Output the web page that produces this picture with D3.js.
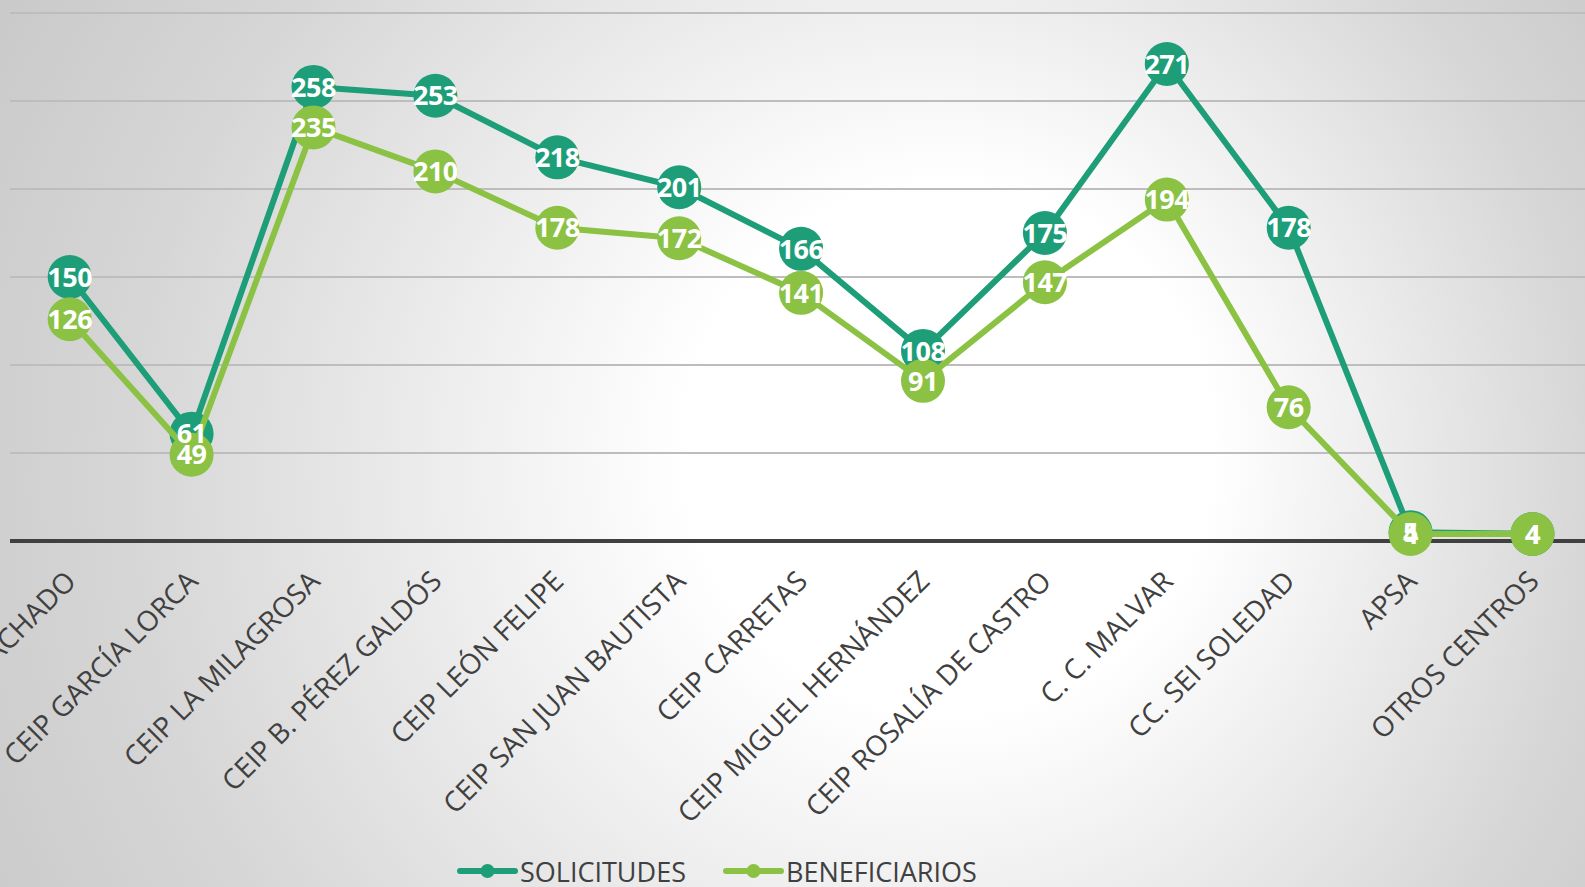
<!DOCTYPE html>
<html>
<head>
<meta charset="utf-8">
<script src="https://cdn.jsdelivr.net/npm/d3@7"></script>
<style>
  html, body { margin: 0; padding: 0; overflow: hidden; }
  svg { display: block; }
</style>
</head>
<body>
<div id="chart"></div>
<script>
var categories = [
    'CEIP ANTONIO MACHADO', 'CEIP GARCÍA LORCA', 'CEIP LA MILAGROSA',
    'CEIP B. PÉREZ GALDÓS', 'CEIP LEÓN FELIPE', 'CEIP SAN JUAN BAUTISTA',
    'CEIP CARRETAS', 'CEIP MIGUEL HERNÁNDEZ', 'CEIP ROSALÍA DE CASTRO',
    'C. C. MALVAR', 'CC. SEI SOLEDAD', 'APSA', 'OTROS CENTROS'
];
var solicitudes = [150, 61, 258, 253, 218, 201, 166, 108, 175, 271, 178, 5, 4];
var beneficiarios = [126, 49, 235, 210, 178, 172, 141, 91, 147, 194, 76, 4, 4];
var seriesNames = ['SOLICITUDES', 'BENEFICIARIOS'];
var gridValues = [50, 100, 150, 200, 250, 300];

var width = 1585,
    height = 887;

var colors = ['#1e9e78', '#8bc243'];

var svg = d3.select('#chart').append('svg')
    .attr('width', width)
    .attr('height', height);

// background, white in the middle, grey towards the edges
var defs = svg.append('defs');
var grad = defs.append('radialGradient')
    .attr('id', 'bg')
    .attr('gradientUnits', 'userSpaceOnUse')
    .attr('cx', 800)
    .attr('cy', 500)
    .attr('r', 1050)
    .attr('fx', 1000)
    .attr('fy', 430);
grad.append('stop').attr('offset', 0).attr('stop-color', '#ffffff');
grad.append('stop').attr('offset', 0.25).attr('stop-color', '#ffffff');
grad.append('stop').attr('offset', 0.7).attr('stop-color', '#d6d6d6');
grad.append('stop').attr('offset', 1).attr('stop-color', '#c4c4c4');

svg.append('rect')
    .attr('width', width)
    .attr('height', height)
    .attr('fill', 'url(#bg)');

// scales
var x = d3.scalePoint()
    .domain(categories)
    .range([69.7, 69.7 + 121.9 * (categories.length - 1)]);

var y = d3.scaleLinear()
    .domain([0, 300])
    .range([541, 13]);

// grid
svg.append('g')
    .selectAll('line')
    .data(gridValues)
    .enter().append('line')
    .attr('x1', 10)
    .attr('x2', width)
    .attr('y1', function(d) { return y(d); })
    .attr('y2', function(d) { return y(d); })
    .attr('stroke', '#bdbdbd')
    .attr('stroke-width', 2);

// category axis
var xAxis = svg.append('g')
    .attr('transform', 'translate(0,' + y(0) + ')')
    .call(d3.axisBottom(x).tickSize(0).tickFormat(''));
xAxis.select('.domain').remove();
xAxis.append('line')
    .attr('x1', 10)
    .attr('x2', width)
    .attr('stroke', '#404040')
    .attr('stroke-width', 4);

svg.append('g')
    .selectAll('text')
    .data(categories)
    .enter().append('text')
    .attr('transform', function(d) { return 'translate(' + (x(d) + 8) + ',583)rotate(-45)'; })
    .attr('text-anchor', 'end')
    .attr('font-family', '"Open Sans", sans-serif')
    .attr('font-size', 28)
    .attr('fill', '#404040')
    .text(function(d) { return d; });

// series
var series = [solicitudes, beneficiarios];

var line = d3.line()
    .x(function(d, i) { return x(categories[i]); })
    .y(function(d) { return y(d); });

series.forEach(function(values, s) {
    var g = svg.append('g');
    g.append('path')
        .datum(values)
        .attr('d', line)
        .attr('fill', 'none')
        .attr('stroke', colors[s])
        .attr('stroke-width', 6)
        .attr('stroke-linejoin', 'round');
    g.selectAll('circle')
        .data(values)
        .enter().append('circle')
        .attr('cx', function(d, i) { return x(categories[i]); })
        .attr('cy', function(d) { return y(d); })
        .attr('r', 22)
        .attr('fill', colors[s]);
});

// data labels
series.forEach(function(values) {
    svg.append('g')
        .selectAll('text')
        .data(values)
        .enter().append('text')
        .attr('x', function(d, i) { return x(categories[i]); })
        .attr('y', function(d) { return y(d); })
        .attr('dy', '0.36em')
        .attr('text-anchor', 'middle')
        .attr('font-family', '"Open Sans", sans-serif')
        .attr('font-weight', 'bold')
        .attr('font-size', 27)
        .attr('letter-spacing', -0.5)
        .attr('fill', '#ffffff')
        .text(function(d) { return d; });
});

// legend
var legendX = [460, 726];
var legend = svg.append('g')
    .selectAll('g')
    .data(seriesNames)
    .enter().append('g')
    .attr('transform', function(d, i) { return 'translate(' + legendX[i] + ',871)'; });

legend.append('line')
    .attr('x1', 0)
    .attr('x2', 55)
    .attr('stroke', function(d, i) { return colors[i]; })
    .attr('stroke-width', 6)
    .attr('stroke-linecap', 'round');
legend.append('circle')
    .attr('cx', 27.5)
    .attr('r', 7)
    .attr('fill', function(d, i) { return colors[i]; });
legend.append('text')
    .attr('x', 60)
    .attr('y', 11)
    .attr('font-family', '"Open Sans", sans-serif')
    .attr('font-size', 27)
    .attr('fill', '#404040')
    .text(function(d) { return d; });
</script>
</body>
</html>
